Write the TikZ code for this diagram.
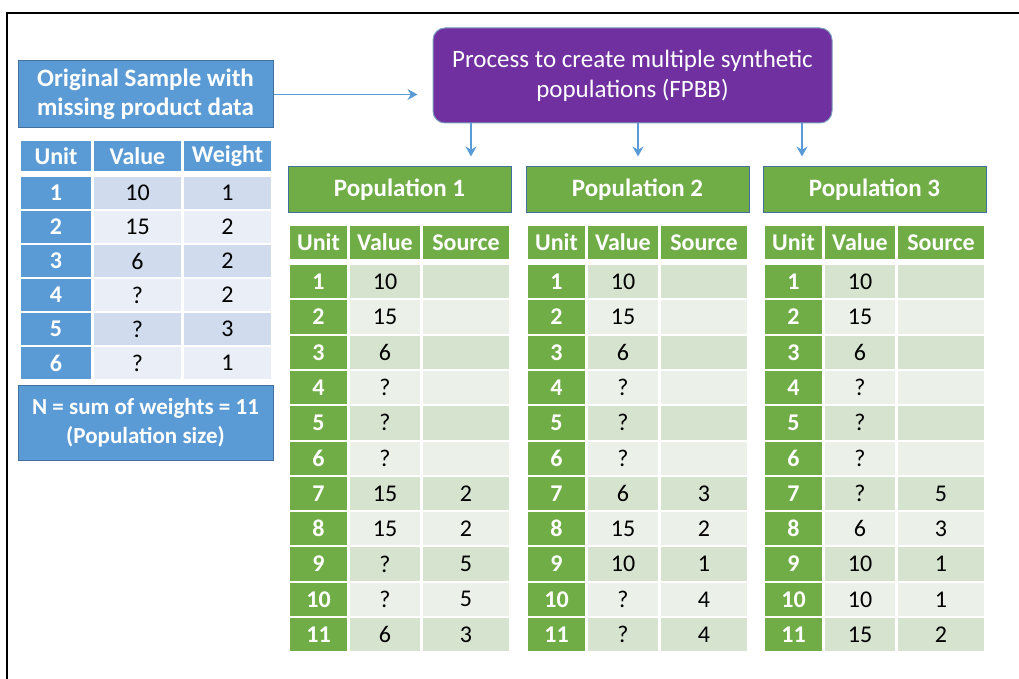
\documentclass[tikz,border=0pt]{standalone}
\usepackage{fontspec}
\setmainfont{Carlito}
\usetikzlibrary{positioning}
\usetikzlibrary{arrows.meta}

\definecolor{hdblue}{HTML}{5B9BD5}
\definecolor{edgeblue}{HTML}{41719C}
\definecolor{bluedark}{HTML}{D0DBEE}
\definecolor{bluelight}{HTML}{E9EEF7}
\definecolor{hdgreen}{HTML}{70AD47}
\definecolor{greendark}{HTML}{D5E3CF}
\definecolor{greenlight}{HTML}{EBF1E9}
\definecolor{procpurple}{HTML}{7030A0}

\tikzset{
  cell/.style={draw=white, line width=2pt, inner sep=0pt, font=\fontsize{24}{28}\selectfont},
  headcell/.style={cell, text=white, font=\fontsize{24}{28}\selectfont\bfseries},
  titlebox/.style={draw=edgeblue, line width=1pt, text=white, align=center, inner sep=0pt, font=\fontsize{25}{29}\selectfont\bfseries},
  flow/.style={draw=hdblue, line width=1.5pt, -{Stealth[length=10pt,width=11pt]}}
}

\begin{document}
\begin{tikzpicture}[x=1pt, y=-1pt]
    \useasboundingbox (0,0) rectangle (1019,679);

    % Rahmen
    \draw[line width=2.5pt] (7,679) -- (7,13) -- (1019,13);

    % Stichprobe links
    \node[titlebox, fill=hdblue, minimum width=255, minimum height=67] (orig) at (145.5,94.5)
        {Original Sample with\\missing product data};

    \foreach \c/\cx/\w/\t in {u/56/72/Unit, v/137.5/89/Value, w/227.5/89/Weight}
        \node[headcell, fill=hdblue, minimum width=\w, minimum height=32] (s\c0) at (\cx,156) {\t};

    \foreach \r/\v/\wt in {1/10/1, 2/15/2, 3/6/2, 4/?/2, 5/?/3, 6/?/1} {
        \pgfmathsetmacro{\ry}{176+34*(\r-1)+17}
        \ifodd\r \def\bg{bluedark}\else \def\bg{bluelight}\fi
        \node[headcell, fill=hdblue, minimum width=72, minimum height=34] (su\r) at (56,\ry) {\r};
        \node[cell, fill=\bg, minimum width=89, minimum height=34] (sv\r) at (137.5,\ry) {\v};
        \node[cell, fill=\bg, minimum width=89, minimum height=34] (sw\r) at (227.5,\ry) {\wt};
    }

    \node[titlebox, fill=hdblue, minimum width=255, minimum height=75,
          font=\fontsize{23}{29}\selectfont\bfseries] (size) at (145.5,422.5)
        {N = sum of weights = 11\\(Population size)};

    % Prozess
    \node[draw=edgeblue!70, line width=1pt, fill=procpurple, rounded corners=12pt,
          minimum width=399, minimum height=95, text=white, align=center,
          font=\fontsize{25}{30}\selectfont] (proc) at (632.5,75.5)
        {Process to create multiple synthetic\\populations (FPBB)};

    \draw[flow, shorten >=15pt] (orig.east) -- (proc.west |- orig.east);

    % Populationen: Kopf
    \foreach \p/\xo/\ax in {1/289/471, 2/527/638, 3/764/802} {
        \node[titlebox, fill=hdgreen, minimum width=223, minimum height=45] (pop\p) at (\xo+110.5,189.5)
            {Population \p};
        \coordinate (a\p) at (\ax,0);
        \draw[flow, shorten >=10pt] (proc.south -| a\p) -- (pop\p.north -| a\p);
        \node[headcell, fill=hdgreen, minimum width=59, minimum height=35] (p\p hu) at (\xo+29.5,242.5) {Unit};
        \node[headcell, fill=hdgreen, minimum width=72, minimum height=35] (p\p hv) at (\xo+96,242.5) {Value};
        \node[headcell, fill=hdgreen, minimum width=88, minimum height=35] (p\p hs) at (\xo+177,242.5) {Source};
    }

    % Populationen: Zeilen
    \foreach \r/\va/\sa/\vb/\sb/\vc/\sc in {
        1/10//10//10/,
        2/15//15//15/,
        3/6//6//6/,
        4/?//?//?/,
        5/?//?//?/,
        6/?//?//?/,
        7/15/2/6/3/?/5,
        8/15/2/15/2/6/3,
        9/?/5/10/1/10/1,
        10/?/5/?/4/10/1,
        11/6/3/?/4/15/2
    } {
        \pgfmathsetmacro{\ry}{264+35.3*(\r-1)+17.65}
        \ifodd\r \def\bg{greendark}\else \def\bg{greenlight}\fi
        \foreach \p/\xo/\v/\s in {1/289/\va/\sa, 2/527/\vb/\sb, 3/764/\vc/\sc} {
            \node[headcell, fill=hdgreen, minimum width=59, minimum height=35.3] (p\p u\r) at (\xo+29.5,\ry) {\r};
            \node[cell, fill=\bg, minimum width=72, minimum height=35.3] (p\p v\r) at (\xo+96,\ry) {\v};
            \node[cell, fill=\bg, minimum width=88, minimum height=35.3] (p\p s\r) at (\xo+177,\ry) {\s};
        }
    }

\end{tikzpicture}
\end{document}
